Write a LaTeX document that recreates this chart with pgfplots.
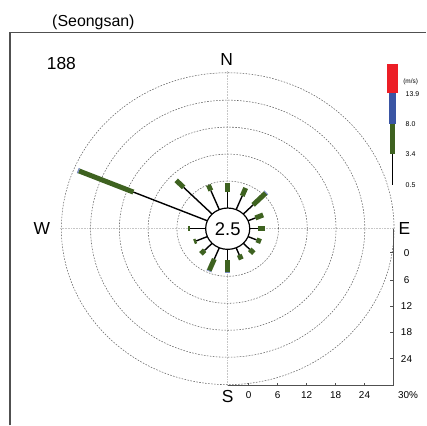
\documentclass[border=0pt]{standalone}
\usepackage{pgfplots}
\pgfplotsset{compat=1.18}
\usepackage{pgfplotstable}
\usepackage{fontspec}
\setmainfont{Liberation Sans}
\definecolor{rgreen}{RGB}{62,98,32}
\definecolor{rblue}{RGB}{58,85,164}
\definecolor{rred}{RGB}{236,30,38}
\definecolor{axgray}{RGB}{80,80,80}
% direction (deg), cumulative frequency (%) at end of each speed class
\pgfplotstableread{
a p1 p2
0 3.6 5.5
22.5 3.3 5.2
45 2.9 6.6
67.5 1.65 3.4
90 1.7 3.1
112.5 1.9 2.9
135 1.9 3.1
157.5 1.7 2.8
180 2.35 5.1
202.5 2.7 5.5
225 2.2 3.3
247.5 2.5 3.0
270 3.2 3.7
292.5 16.7 29.0
315 8.4 10.6
337.5 4.6 5.9
}\rose
\pgfplotstableread{
a p2 p3
45 6.6 6.8
180 5.1 5.3
202.5 5.5 5.65
292.5 29.0 29.25
}\roseblue
\def\calm{4.6}
\tikzset{dcirc/.style={gray!80!black, dash pattern=on 1.6bp off 1.4bp, line width=0.55bp},
  tk/.style={axgray, line width=0.9bp},
  tl/.style={font=\fontsize{10}{10}\selectfont},
  big/.style={font=\fontsize{17.5}{17.5}\selectfont},
  lg/.style={font=\fontsize{7}{7}\selectfont, anchor=west}}
\begin{document}
\begin{tikzpicture}
\begin{axis}[scale only axis, width=427bp, height=426bp,
  xmin=-47.5, xmax=41.4583, ymin=-43.778, ymax=50.889,
  axis lines=none, clip=false]
\path (rel axis cs:0,0) rectangle (rel axis cs:1,1);
% frame
\draw[axgray, line width=1.1bp] (axis cs:-45.42,-43.778) -- (axis cs:-45.42,43.56) -- (axis cs:41.4583,43.56);
% grid cross
\draw[gray!45, densely dotted, line width=0.6bp] (axis cs:-35,0) -- (axis cs:34.58,0);
\draw[gray!45, densely dotted, line width=0.6bp] (axis cs:0,35) -- (axis cs:0,-34.9);
% dashed circles
\draw[dcirc] (axis cs:0,0) ellipse [x radius=10.6, y radius=10.6];
\draw[dcirc] (axis cs:0,0) ellipse [x radius=16.6, y radius=16.6];
\draw[dcirc] (axis cs:0,0) ellipse [x radius=22.6, y radius=22.6];
\draw[dcirc] (axis cs:0,0) ellipse [x radius=28.6, y radius=28.6];
\draw[dcirc] (axis cs:0,0) ellipse [x radius=34.7, y radius=34.7];
% bars
\addplot[quiver={u={\thisrow{p1}*sin(\thisrow{a})}, v={\thisrow{p1}*cos(\thisrow{a})}}, draw=black, line width=1.4bp, line cap=butt, mark=none]
  table[x expr={\calm*sin(\thisrow{a})}, y expr={\calm*cos(\thisrow{a})}] {\rose};
\addplot[quiver={u={(\thisrow{p2}-\thisrow{p1})*sin(\thisrow{a})}, v={(\thisrow{p2}-\thisrow{p1})*cos(\thisrow{a})}}, draw=rgreen, line width=5bp, line cap=butt, mark=none]
  table[x expr={(\calm+\thisrow{p1})*sin(\thisrow{a})}, y expr={(\calm+\thisrow{p1})*cos(\thisrow{a})}] {\rose};
\addplot[quiver={u={(\thisrow{p3}-\thisrow{p2})*sin(\thisrow{a})}, v={(\thisrow{p3}-\thisrow{p2})*cos(\thisrow{a})}}, draw=rblue!70, line width=5.5bp, line cap=butt, mark=none]
  table[x expr={(\calm+\thisrow{p2})*sin(\thisrow{a})}, y expr={(\calm+\thisrow{p2})*cos(\thisrow{a})}] {\roseblue};
% calm circle
\draw[black, fill=white, line width=1.2bp] (axis cs:0,0) ellipse [x radius=4.6, y radius=4.6];
\node[font=\fontsize{18.5}{18.5}\selectfont] at (axis cs:0,0) {2.5};
% axes for scale
\draw[axgray, line width=0.9bp] (axis cs:34.58,0) -- (axis cs:34.58,-34.9) -- (axis cs:0,-34.9);
\draw[tk] (axis cs:34.58,-5.33) -- (axis cs:33.95,-5.33);
\draw[tk] (axis cs:34.58,-11.48) -- (axis cs:33.95,-11.48);
\draw[tk] (axis cs:34.58,-17.26) -- (axis cs:33.95,-17.26);
\draw[tk] (axis cs:34.58,-23.0) -- (axis cs:33.95,-23.0);
\draw[tk] (axis cs:34.58,-28.96) -- (axis cs:33.95,-28.96);
\node[tl] at (axis cs:37.3,-5.33) {0};
\node[tl] at (axis cs:37.3,-11.48) {6};
\node[tl] at (axis cs:37.3,-17.26) {12};
\node[tl] at (axis cs:37.3,-23.0) {18};
\node[tl] at (axis cs:37.3,-28.96) {24};
\draw[tk] (axis cs:4.375,-34.9) -- (axis cs:4.375,-34.23);
\draw[tk] (axis cs:10.42,-34.9) -- (axis cs:10.42,-34.23);
\draw[tk] (axis cs:16.46,-34.9) -- (axis cs:16.46,-34.23);
\draw[tk] (axis cs:22.5,-34.9) -- (axis cs:22.5,-34.23);
\draw[tk] (axis cs:28.54,-34.9) -- (axis cs:28.54,-34.23);
\node[tl] at (axis cs:4.375,-37.04) {0};
\node[tl] at (axis cs:10.42,-37.04) {6};
\node[tl] at (axis cs:16.46,-37.04) {12};
\node[tl] at (axis cs:22.5,-37.04) {18};
\node[tl] at (axis cs:28.54,-37.04) {24};
\node[tl] at (axis cs:37.6,-37.04) {30\%};
% legend bars
\addplot[rred, line width=11bp, line cap=butt, mark=none] coordinates {(34.375,36.67) (34.375,30.16)};
\addplot[rblue, line width=8bp, line cap=butt, mark=none] coordinates {(34.375,30.16) (34.375,23.33)};
\addplot[rgreen, line width=5bp, line cap=butt, mark=none] coordinates {(34.375,23.33) (34.375,16.67)};
\addplot[black, line width=1.4bp, line cap=butt, mark=none] coordinates {(34.375,16.67) (34.375,9.78)};
\node[font=\fontsize{6.5}{6.5}\selectfont, anchor=west] at (axis cs:35.9,32.7) {(m/s)};
\node[lg] at (axis cs:36.4,30.0) {13.9};
\node[lg] at (axis cs:36.4,23.33) {8.0};
\node[lg] at (axis cs:36.4,16.67) {3.4};
\node[lg] at (axis cs:36.4,9.78) {0.5};
% labels
\node[font=\fontsize{16}{16}\selectfont] at (axis cs:-28.02,46.0) {(Seongsan)};
\node[big] at (axis cs:-34.69,36.67) {188};
\node[big] at (axis cs:-0.2,37.56) {N};
\node[big] at (axis cs:0,-37.33) {S};
\node[big] at (axis cs:-38.75,0) {W};
\node[big] at (axis cs:36.875,0) {E};
\end{axis}
\end{tikzpicture}
\end{document}
